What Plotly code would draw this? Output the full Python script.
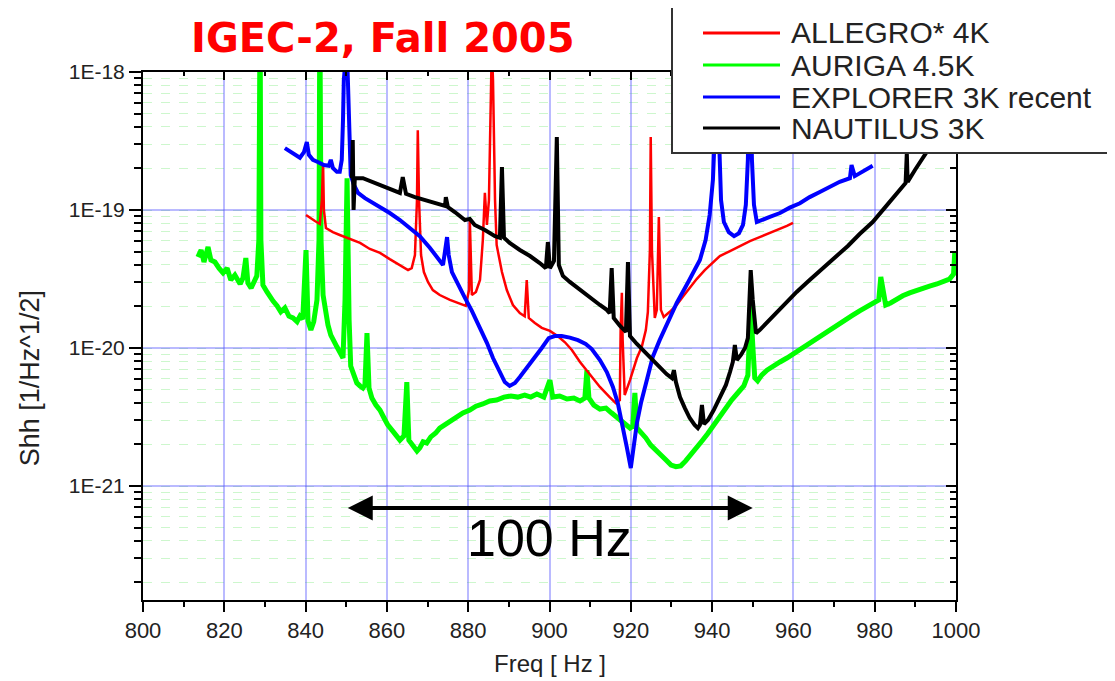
import plotly.graph_objects as go

# ---------------- data ----------------
allegro_f = [840.1, 841.1, 842.3, 843.5, 844.0, 844.3, 844.5, 845.0, 846.7, 848.4, 850.9, 853.4, 855.8,
             858.3, 860.7, 863.2, 865.2, 866.1, 866.9, 867.4, 867.6, 867.9, 868.4, 869.1, 870.1, 871.3,
             873.0, 875.5, 877.9, 879.4, 880.2, 880.4, 880.9, 881.9, 882.9, 883.6, 884.1, 884.6, 885.1,
             885.6, 885.8, 886.1, 886.6, 887.0, 888.3, 889.5, 891.0, 892.7, 893.9, 894.4, 894.9, 896.4,
             898.1, 900.1, 902.0, 903.8, 905.5, 907.5, 909.9, 912.4, 914.8, 916.3, 917.3, 917.5, 917.8,
             918.0, 918.5, 919.8, 921.5, 922.7, 923.7, 924.2, 924.7, 924.9, 925.2, 925.9, 926.4, 926.9,
             927.4, 928.1, 929.6, 931.3, 932.8, 934.5, 936.2, 938.2, 940.2, 941.9, 944.4, 946.8, 949.3,
             951.7, 954.2, 956.7, 958.4, 959.9]
allegro_s = [9.2e-20, 8.75e-20, 8.32e-20, 7.92e-20, 1.18e-19, 2.19e-19, 1.0e-19, 7.41e-20, 6.91e-20, 6.59e-20,
             6.16e-20, 5.77e-20, 5.22e-20, 4.89e-20, 4.41e-20, 3.99e-20, 3.67e-20, 3.79e-20, 4.72e-20, 1.18e-19,
             3.79e-19, 1.18e-19, 4.72e-20, 3.55e-20, 3.01e-20, 2.63e-20, 2.42e-20, 2.23e-20, 2.09e-20, 2.02e-20,
             2.63e-20, 8.46e-20, 2.42e-20, 2.55e-20, 3.11e-20, 6.06e-20, 1.33e-19, 7.79e-20, 1.18e-19, 8.75e-19,
             1.5e-18, 8.75e-19, 1.18e-19, 5.58e-20, 3.55e-20, 2.63e-20, 2.05e-20, 1.79e-20, 1.70e-20, 3.11e-20,
             1.65e-20, 1.52e-20, 1.40e-20, 1.33e-20, 1.22e-20, 1.10e-20, 9.67e-21, 7.92e-21, 6.47e-21, 5.22e-21,
             4.41e-21, 3.99e-21, 4.20e-21, 1.35e-20, 2.51e-20, 1.14e-20, 4.56e-21, 5.86e-21, 8.46e-21, 1.02e-20,
             1.35e-20, 1.83e-20, 5.13e-20, 3.38e-19, 5.13e-20, 1.65e-20, 1.89e-20, 8.91e-20, 1.89e-20, 1.68e-20,
             1.83e-20, 2.05e-20, 2.35e-20, 2.72e-20, 3.16e-20, 3.67e-20, 4.20e-20, 4.64e-20, 5.04e-20, 5.49e-20,
             5.96e-20, 6.36e-20, 6.79e-20, 7.28e-20, 7.66e-20, 8.06e-20]

auriga_f = [813.5, 814.3, 815.0, 816.0, 816.7, 817.7, 818.7, 819.7, 820.7, 821.6, 822.6, 823.9, 824.6, 825.3,
            825.8, 826.6, 827.3, 828.0, 828.5, 828.8, 829.0, 829.5, 830.5, 831.2, 832.0, 833.0, 833.9, 834.9,
            835.9, 836.9, 837.9, 838.6, 839.3, 840.1, 840.6, 841.3, 842.0, 842.8, 843.3, 843.5, 843.8, 844.3,
            844.8, 845.5, 846.2, 847.0, 847.7, 848.4, 849.2, 849.7, 850.2, 850.7, 851.1, 851.9, 852.6, 853.4,
            854.1, 854.6, 855.1, 855.6, 856.3, 857.3, 858.3, 859.3, 860.2, 861.2, 862.2, 863.2, 864.2, 864.9,
            865.4, 866.4, 867.4, 868.1, 868.9, 869.8, 870.8, 872.0, 873.0, 874.5, 876.0, 877.5, 878.7, 880.4,
            881.9, 883.6, 885.3, 887.0, 888.8, 890.5, 892.2, 893.9, 895.4, 896.9, 898.6, 900.1, 900.8, 902.5,
            904.3, 906.0, 907.5, 908.7, 909.2, 909.7, 910.9, 912.4, 913.9, 915.3, 916.8, 918.3, 919.8, 920.5,
            921.0, 921.5, 922.5, 923.7, 924.9, 926.2, 927.4, 928.6, 929.9, 931.1, 932.3, 933.5, 934.8, 936.0,
            937.5, 938.9, 940.4, 941.9, 943.4, 944.8, 946.3, 947.8, 948.8, 949.3, 949.5, 950.0, 950.5, 951.2,
            952.2, 953.5, 954.9, 956.7, 958.4, 959.9, 961.6, 963.3, 964.8, 966.5, 968.2, 969.7, 971.4, 973.1,
            974.6, 976.3, 978.0, 979.5, 981.0, 981.5, 982.0, 982.7, 983.9, 985.4, 986.9, 988.6, 990.3, 991.8,
            993.5, 995.3, 996.7, 998.4, 999.4, 999.7]
auriga_s = [4.56e-20, 5.13e-20, 4.20e-20, 5.40e-20, 4.34e-20, 4.20e-20, 3.79e-20, 3.50e-20, 3.79e-20, 3.11e-20,
            3.38e-20, 2.91e-20, 3.22e-20, 4.49e-20, 2.96e-20, 2.72e-20, 3.01e-20, 3.33e-20, 6.06e-20, 3.0e-18,
            6.06e-20, 2.86e-20, 2.55e-20, 2.35e-20, 2.19e-20, 2.02e-20, 1.83e-20, 1.95e-20, 1.70e-20, 1.65e-20,
            1.55e-20, 1.70e-20, 1.62e-20, 5.13e-20, 1.57e-20, 1.35e-20, 1.55e-20, 2.23e-20, 6.06e-20, 3.0e-18,
            6.06e-20, 2.42e-20, 1.89e-20, 1.47e-20, 1.24e-20, 1.14e-20, 1.02e-20, 9.36e-21, 8.46e-21, 2.23e-20,
            1.70e-19, 1.60e-20, 7.41e-21, 6.36e-21, 5.58e-21, 5.31e-21, 5.13e-21, 5.40e-21, 1.28e-20, 5.13e-21,
            4.34e-21, 3.86e-21, 3.55e-21, 3.11e-21, 2.77e-21, 2.55e-21, 2.31e-21, 2.15e-21, 2.31e-21, 5.67e-21,
            2.15e-21, 1.95e-21, 1.79e-21, 1.89e-21, 2.09e-21, 2.05e-21, 2.27e-21, 2.42e-21, 2.63e-21, 2.81e-21,
            3.01e-21, 3.22e-21, 3.38e-21, 3.55e-21, 3.79e-21, 3.93e-21, 4.13e-21, 4.20e-21, 4.41e-21, 4.49e-21,
            4.41e-21, 4.56e-21, 4.41e-21, 4.64e-21, 4.41e-21, 5.86e-21, 4.41e-21, 4.49e-21, 4.27e-21, 4.34e-21,
            4.13e-21, 4.34e-21, 6.91e-21, 4.34e-21, 3.86e-21, 3.61e-21, 3.67e-21, 3.38e-21, 3.11e-21, 2.91e-21,
            2.63e-21, 2.72e-21, 4.72e-21, 2.63e-21, 2.46e-21, 2.23e-21, 1.98e-21, 1.79e-21, 1.68e-21, 1.55e-21,
            1.42e-21, 1.38e-21, 1.40e-21, 1.52e-21, 1.68e-21, 1.89e-21, 2.12e-21, 2.39e-21, 2.77e-21, 3.11e-21,
            3.67e-21, 4.20e-21, 4.72e-21, 5.31e-21, 6.36e-21, 1.24e-20, 2.05e-20, 1.05e-20, 6.06e-21, 5.77e-21,
            6.36e-21, 6.91e-21, 7.41e-21, 7.92e-21, 8.46e-21, 9.05e-21, 9.67e-21, 1.05e-20, 1.12e-20, 1.22e-20,
            1.31e-20, 1.42e-20, 1.52e-20, 1.62e-20, 1.73e-20, 1.86e-20, 1.98e-20, 2.09e-20, 2.23e-20, 3.27e-20,
            2.55e-20, 2.05e-20, 2.12e-20, 2.27e-20, 2.39e-20, 2.51e-20, 2.63e-20, 2.72e-20, 2.81e-20, 2.91e-20,
            3.01e-20, 3.16e-20, 3.44e-20, 4.96e-20]

explorer_f = [834.9, 836.1, 837.4, 838.6, 839.6, 840.3, 840.8, 841.8, 843.0, 844.5, 845.7, 846.2, 846.7, 847.7,
              848.4, 848.9, 849.2, 849.4, 849.9, 850.2, 850.4, 850.7, 851.1, 851.9, 852.9, 854.6, 856.3, 858.3,
              860.7, 863.2, 865.7, 868.1, 870.6, 872.5, 873.8, 874.8, 875.2, 876.0, 877.5, 879.2, 880.9, 882.9,
              884.6, 886.1, 887.8, 889.0, 890.2, 891.5, 892.7, 894.4, 896.4, 898.1, 899.8, 901.3, 903.0, 905.0,
              907.0, 908.9, 910.4, 912.4, 914.1, 915.6, 916.8, 918.0, 919.0, 920.0, 920.7, 921.5, 922.5, 923.7,
              925.4, 927.1, 929.1, 931.3, 934.0, 937.0, 938.4, 939.4, 940.2, 940.7, 941.0, 941.7, 942.2, 942.9,
              944.1, 945.4, 946.6, 947.6, 948.3, 948.8, 949.3, 949.8, 950.3, 951.0, 952.5, 954.2, 956.7, 959.1,
              961.6, 964.0, 966.5, 968.9, 971.4, 973.9, 974.3, 975.1, 976.8, 978.3, 979.5]
explorer_s = [2.81e-19, 2.68e-19, 2.55e-19, 2.39e-19, 2.63e-19, 3.11e-19, 2.51e-19, 2.31e-19, 2.23e-19, 2.12e-19,
              2.09e-19, 2.31e-19, 2.02e-19, 1.89e-19, 1.89e-19, 2.31e-19, 4.49e-19, 8.75e-19, 1.3e-18, 1.3e-18,
              8.75e-19, 3.22e-19, 1.79e-19, 1.52e-19, 1.33e-19, 1.22e-19, 1.14e-19, 1.04e-19, 9.51e-20, 8.46e-20,
              7.41e-20, 6.47e-20, 5.31e-20, 4.41e-20, 3.99e-20, 6.36e-20, 4.72e-20, 3.55e-20, 2.86e-20, 2.31e-20,
              1.86e-20, 1.42e-20, 1.09e-20, 8.46e-21, 6.59e-21, 5.67e-21, 5.31e-21, 5.58e-21, 6.16e-21, 7.16e-21,
              8.46e-21, 1.0e-20, 1.18e-20, 1.22e-20, 1.22e-20, 1.19e-20, 1.14e-20, 1.07e-20, 9.83e-21, 8.18e-21,
              6.70e-21, 5.22e-21, 3.99e-21, 2.77e-21, 1.92e-21, 1.35e-21, 1.98e-21, 2.86e-21, 3.99e-21, 5.58e-21,
              8.62e-21, 1.14e-20, 1.52e-20, 2.12e-20, 2.96e-20, 4.34e-20, 6.06e-20, 9.2e-20, 1.65e-19, 3.79e-19,
              1.5e-18, 2.72e-19, 1.18e-19, 8.18e-20, 6.91e-20, 6.47e-20, 6.79e-20, 7.79e-20, 1.09e-19, 2.31e-19,
              1.5e-18, 2.31e-19, 1.09e-19, 8.18e-20, 8.46e-20, 8.91e-20, 9.51e-20, 1.04e-19, 1.12e-19, 1.24e-19,
              1.35e-19, 1.47e-19, 1.60e-19, 1.70e-19, 2.12e-19, 1.76e-19, 1.89e-19, 1.98e-19, 2.09e-19]

nautilus_f = [851.4, 851.6, 851.8, 852.1, 854.1, 856.3, 858.8, 861.2, 863.2, 863.9, 864.7, 866.9, 869.3, 871.8,
              874.3, 874.5, 875.0, 876.7, 879.2, 880.4, 881.6, 884.1, 886.6, 887.8, 888.3, 888.8, 890.2, 892.7,
              895.2, 897.6, 899.1, 899.6, 900.1, 901.1, 901.8, 902.3, 903.3, 905.0, 907.5, 909.9, 912.4, 914.1,
              914.8, 915.3, 915.8, 917.3, 918.8, 919.3, 919.8, 921.5, 923.4, 925.4, 927.1, 928.8, 930.1, 930.6,
              931.1, 932.1, 933.3, 934.5, 935.7, 936.5, 937.0, 937.5, 938.0, 939.0, 940.4, 941.9, 943.4, 944.4,
              945.1, 945.6, 946.1, 947.1, 948.1, 948.8, 949.3, 949.5, 950.0, 950.8, 951.7, 953.7, 955.9, 958.4,
              960.8, 964.0, 967.2, 970.2, 973.4, 976.3, 979.5, 982.5, 984.9, 986.9, 987.6, 987.9, 988.1, 989.9,
              991.6, 993.1, 994.8, 997.2, 999.7]
nautilus_s = [1.70e-19, 3.22e-19, 1.0e-19, 1.70e-19, 1.70e-19, 1.60e-19, 1.50e-19, 1.40e-19, 1.33e-19, 1.73e-19,
              1.31e-19, 1.24e-19, 1.18e-19, 1.12e-19, 1.07e-19, 1.24e-19, 1.05e-19, 9.67e-20, 8.46e-20, 8.62e-20,
              7.79e-20, 7.16e-20, 6.47e-20, 6.3e-20, 2.05e-19, 6.3e-20, 5.77e-20, 5.13e-20, 4.64e-20, 4.13e-20,
              3.79e-20, 5.86e-20, 3.79e-20, 4.27e-20, 3.38e-19, 3.99e-20, 3.33e-20, 3.01e-20, 2.63e-20, 2.31e-20,
              2.05e-20, 1.89e-20, 1.79e-20, 3.79e-20, 1.65e-20, 1.45e-20, 1.31e-20, 4.20e-20, 1.22e-20, 1.07e-20,
              9.36e-21, 8.18e-21, 7.16e-21, 6.47e-21, 6.06e-21, 6.91e-21, 5.67e-21, 4.41e-21, 3.67e-21, 3.11e-21,
              2.77e-21, 2.63e-21, 2.77e-21, 3.86e-21, 2.81e-21, 3.01e-21, 3.55e-21, 4.34e-21, 5.40e-21, 6.70e-21,
              7.92e-21, 1.05e-20, 8.18e-21, 8.91e-21, 1.0e-20, 1.18e-20, 2.23e-20, 3.67e-20, 2.23e-20, 1.28e-20,
              1.35e-20, 1.55e-20, 1.83e-20, 2.15e-20, 2.55e-20, 3.11e-20, 3.79e-20, 4.49e-20, 5.49e-20, 6.70e-20,
              8.18e-20, 1.04e-19, 1.26e-19, 1.50e-19, 1.57e-19, 2.58e-19, 1.60e-19, 1.95e-19, 2.31e-19, 2.72e-19,
              3.79e-19, 6.3e-19, 9.5e-19]

series_names = ["ALLEGRO* 4K", "AURIGA 4.5K", "EXPLORER 3K recent", "NAUTILUS 3K"]
series_colors = ["#ff0000", "#00ff00", "#0000ff", "#000000"]

y_tick_vals = [1e-21, 1e-20, 1e-19, 1e-18]
y_tick_text = ["1E-21", "1E-20", "1E-19", "1E-18"]
x_tick_vals = [800, 820, 840, 860, 880, 900, 920, 940, 960, 980, 1000]

title_text = "IGEC-2, Fall 2005"
span_label = "100 Hz"
span_start, span_end = 850, 950

# ---------------- figure ----------------
FONT = "Liberation Sans, Arial, Helvetica, sans-serif"
Y_RANGE = [-21.826, -18.0]
X_RANGE = [800, 1000]

fig = go.Figure()

fig.add_trace(go.Scatter(x=auriga_f, y=auriga_s, mode="lines", name=series_names[1],
                         line=dict(color=series_colors[1], width=5), showlegend=False))
fig.add_trace(go.Scatter(x=allegro_f, y=allegro_s, mode="lines", name=series_names[0],
                         line=dict(color=series_colors[0], width=2.5), showlegend=False))
fig.add_trace(go.Scatter(x=explorer_f, y=explorer_s, mode="lines", name=series_names[2],
                         line=dict(color=series_colors[2], width=4), showlegend=False))
fig.add_trace(go.Scatter(x=nautilus_f, y=nautilus_s, mode="lines", name=series_names[3],
                         line=dict(color=series_colors[3], width=4), showlegend=False))
# helper trace so the mirrored (top / right) axes exist
fig.add_trace(go.Scatter(x=X_RANGE, y=[1e-18, 1e-18], xaxis="x2", yaxis="y2", mode="lines",
                         line=dict(width=0), opacity=0, hoverinfo="skip", showlegend=False))

grid_blue = "rgba(90,90,255,0.42)"
grid_green = "rgba(130,235,130,0.40)"

# the page body adds an 8 px offset at top-left: figure is 8 px smaller,
# left/top margins reduced by 8 so the plot area lands at x 143-956, y 72-600
fig.update_layout(
    width=1107, height=673,
    margin=dict(l=135, r=159, t=64, b=81),
    paper_bgcolor="white", plot_bgcolor="white",
    font=dict(family=FONT, color="#222222"),
    xaxis=dict(range=X_RANGE, tickvals=x_tick_vals, showgrid=True, gridcolor=grid_blue, gridwidth=2,
               zeroline=False, showline=True, linecolor="black", linewidth=2,
               ticks="outside", ticklen=10, tickwidth=2, tickcolor="black",
               tickfont=dict(size=22, family=FONT, color="#222222"),
               minor=dict(dtick=10, tick0=800, ticks="outside", ticklen=5, tickwidth=2,
                          tickcolor="black", showgrid=False)),
    yaxis=dict(type="log", range=Y_RANGE, tickmode="array", tickvals=y_tick_vals, ticktext=y_tick_text,
               showgrid=True, gridcolor=grid_blue, gridwidth=2, zeroline=False,
               showline=True, linecolor="black", linewidth=2,
               ticks="outside", ticklen=12, tickwidth=2, tickcolor="black",
               tickfont=dict(size=21, family=FONT, color="#222222"),
               minor=dict(dtick="D1", ticks="outside", ticklen=7, tickwidth=2, tickcolor="black",
                          showgrid=True, gridcolor=grid_green, gridwidth=1, griddash="dash")),
    xaxis2=dict(overlaying="x", side="top", matches="x", range=X_RANGE, tickvals=x_tick_vals,
                showticklabels=False, showgrid=False, zeroline=False, showline=True,
                linecolor="black", linewidth=2, ticks="inside", ticklen=8, tickwidth=2, tickcolor="black",
                minor=dict(dtick=10, tick0=800, ticks="inside", ticklen=4, tickwidth=2, tickcolor="black")),
    yaxis2=dict(overlaying="y", side="right", type="log", range=Y_RANGE, tickmode="array",
                tickvals=y_tick_vals, showticklabels=False, showgrid=False, zeroline=False,
                showline=True, linecolor="black", linewidth=2, ticks="inside", ticklen=10,
                tickwidth=2, tickcolor="black",
                minor=dict(dtick="D1", ticks="inside", ticklen=6, tickwidth=2, tickcolor="black",
                           showgrid=False)),
)

annotations = []
shapes = []

# title
annotations.append(dict(text=title_text, xref="paper", yref="paper", x=0.2952, y=1.0644,
                        xanchor="center", yanchor="middle", showarrow=False,
                        font=dict(family="Comic Sans MS, DejaVu Sans, sans-serif", size=40,
                                  color="#ff0000", weight="bold")))
# axis titles
annotations.append(dict(text="Freq [ Hz ]", xref="paper", yref="paper", x=0.5006, y=-0.1205,
                        xanchor="center", yanchor="middle", showarrow=False,
                        font=dict(family=FONT, size=24, color="#222222")))
annotations.append(dict(text="Shh [1/Hz^1/2]", xref="paper", yref="paper", x=-0.139, y=0.42,
                        xanchor="center", yanchor="middle", showarrow=False, textangle=-90,
                        font=dict(family=FONT, size=27, color="#222222")))
# 100 Hz double arrow
arrow_y = -21.159
annotations.append(dict(x=span_end, y=arrow_y, ax=span_start, ay=arrow_y, xref="x", yref="y",
                        axref="x", ayref="y", text="", showarrow=True, arrowhead=2,
                        arrowside="end+start", arrowwidth=4, arrowsize=1.25, arrowcolor="black",
                        standoff=0, startstandoff=0))
annotations.append(dict(text=span_label, xref="x", yref="paper", x=(span_start + span_end) / 2, y=0.1174,
                        xanchor="center", yanchor="middle", showarrow=False,
                        font=dict(family=FONT, size=52, color="black")))


# legend box drawn over the plot (positions given in window pixels)
def px_x(px):
    return (px - 143) / 813.0


def px_y(py):
    return (600 - py) / 528.0


shapes.append(dict(type="rect", xref="paper", yref="paper", x0=px_x(672), x1=px_x(1130),
                   y0=px_y(153), y1=px_y(7), fillcolor="white", line=dict(color="#333333", width=2),
                   layer="above"))
leg_order = [0, 1, 2, 3]
leg_rows = [33, 65, 97, 128]
for i, row in zip(leg_order, leg_rows):
    shapes.append(dict(type="line", xref="paper", yref="paper", x0=px_x(703), x1=px_x(780),
                       y0=px_y(row), y1=px_y(row), line=dict(color=series_colors[i], width=3),
                       layer="above"))
    annotations.append(dict(text=series_names[i], xref="paper", yref="paper", x=px_x(789),
                            y=px_y(row), xanchor="left", yanchor="middle", showarrow=False,
                            font=dict(family=FONT, size=30, color="#222222")))

fig.update_layout(annotations=annotations, shapes=shapes)

fig.write_html("out.html")
